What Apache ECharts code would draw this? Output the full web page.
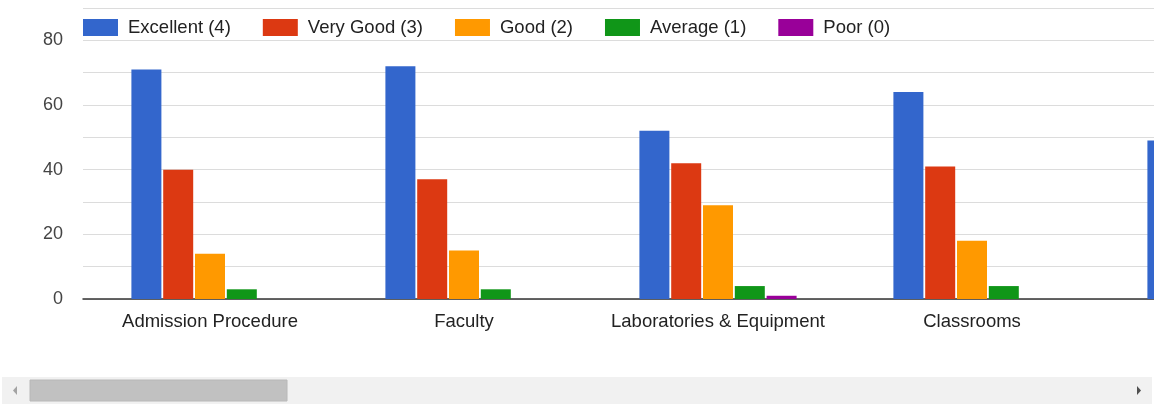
<!DOCTYPE html>
<html>
<head>
<meta charset="utf-8">
<script src="https://cdn.jsdelivr.net/npm/echarts@6/dist/echarts.min.js"></script>
<style>
  html, body { margin: 0; padding: 0; background: #fff; }
  #chart { width: 1154px; height: 407px; }
</style>
</head>
<body>
<div id="chart"></div>
<script>
// categories (the 5th one is cut off at the right edge of the view)
var categories = ['Admission Procedure', 'Faculty', 'Laboratories & Equipment', 'Classrooms', '']
var seriesNames = ['Excellent (4)', 'Very Good (3)', 'Good (2)', 'Average (1)', 'Poor (0)']
var excellent = [71, 72, 52, 64, 49]
var veryGood = [40, 37, 42, 41, null]
var good = [14, 15, 29, 18, null]
var average = [3, 3, 4, 4, null]
var poor = [0, 0, 1, 0, null]
var yTicks = [0, 20, 40, 60, 80]

var colors = ['#3366cc', '#dc3912', '#ff9900', '#109618', '#990099']
var values = [excellent, veryGood, good, average, poor]

var series = seriesNames.map(function (name, i) {
    return {
        name: name,
        type: 'bar',
        data: values[i],
        barWidth: 30,
        barGap: '6%',
        itemStyle: { color: colors[i] }
    }
})

var chart = echarts.init(document.getElementById('chart'))
chart.setOption({
    animation: false,
    color: colors,
    textStyle: { fontFamily: 'Liberation Sans, Arial, sans-serif' },
    legend: {
        left: 83,
        top: 18,
        padding: 0,
        itemWidth: 35,
        itemHeight: 17,
        itemGap: 32,
        icon: 'rect',
        textStyle: { fontSize: 18.5, color: '#222', padding: [0, 0, 0, 5] },
        data: seriesNames
    },
    grid: { left: 83, top: 8, bottom: 108, width: 1270, containLabel: false, outerBoundsMode: 'none' },
    xAxis: {
        type: 'category',
        data: categories,
        axisLine: { lineStyle: { color: '#333', width: 1.5 } },
        axisTick: { show: false },
        axisLabel: { interval: 0, fontSize: 18.5, color: '#222', margin: 13 },
        splitLine: { show: false }
    },
    yAxis: {
        type: 'value',
        min: 0,
        max: 90,
        interval: 10,
        axisLine: { show: false },
        axisTick: { show: false },
        axisLabel: {
            fontSize: 18,
            color: '#444',
            margin: 20,
            formatter: function (v) { return yTicks.indexOf(v) >= 0 ? String(v) : '' }
        },
        splitLine: { lineStyle: { color: '#dcdcdc', width: 1 } }
    },
    series: series,
    graphic: [
        { type: 'rect', shape: { x: 2, y: 377, width: 1150, height: 27 }, style: { fill: '#f1f1f1' } },
        { type: 'rect', shape: { x: 30, y: 380, width: 257, height: 21 }, style: { fill: '#c1c1c1', stroke: '#b8b8b8', lineWidth: 1 } },
        { type: 'polygon', shape: { points: [[13, 390.5], [17, 386], [17, 395]] }, style: { fill: '#a3a3a3' } },
        { type: 'polygon', shape: { points: [[1141, 390.5], [1137, 386], [1137, 395]] }, style: { fill: '#505050' } }
    ]
})
</script>
</body>
</html>
